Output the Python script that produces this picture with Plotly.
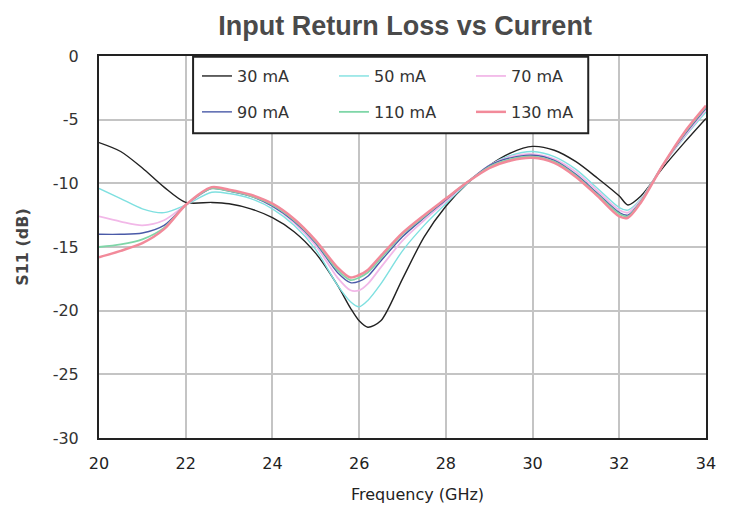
import plotly.graph_objects as go

freq = [20, 20.5, 21, 21.5, 22, 22.6, 23, 23.5, 24, 24.5, 25, 25.5, 25.8, 26, 26.2, 26.5,
        27, 27.5, 28, 28.5, 29, 29.5, 30, 30.5, 31, 31.5, 32, 32.2, 32.5, 33, 33.5, 34]

s11_30 = [-6.8, -7.5, -8.8, -10.3, -11.5, -11.5, -11.6, -12.0, -12.7, -13.8, -15.5, -18.0, -19.8, -20.8, -21.3, -20.8,
          -17.5, -14.2, -11.8, -10.0, -8.6, -7.6, -7.1, -7.4, -8.3, -9.6, -11.0, -11.7, -11.0, -8.8, -6.8, -4.9]
s11_50 = [-10.4, -11.2, -12.0, -12.3, -11.7, -10.7, -10.8, -11.2, -12.0, -13.3, -15.2, -18.0, -19.3, -19.7, -19.2, -17.9,
          -15.3, -13.3, -11.6, -10.0, -8.6, -7.8, -7.5, -7.9, -8.9, -10.4, -11.9, -12.1, -11.2, -8.6, -6.4, -4.4]
s11_70 = [-12.6, -13.0, -13.3, -12.9, -11.7, -10.4, -10.6, -11.0, -11.8, -13.1, -14.9, -17.4, -18.4, -18.4, -17.9, -16.6,
          -14.5, -12.9, -11.4, -9.9, -8.6, -7.9, -7.7, -8.1, -9.1, -10.6, -12.1, -12.3, -11.3, -8.6, -6.3, -4.2]
s11_90 = [-14.0, -14.0, -13.9, -13.3, -11.7, -10.4, -10.6, -11.0, -11.8, -13.0, -14.7, -17.0, -17.8, -17.7, -17.3, -16.1,
          -14.2, -12.7, -11.3, -9.9, -8.6, -8.0, -7.8, -8.2, -9.3, -10.8, -12.3, -12.5, -11.4, -8.6, -6.2, -4.1]
s11_110 = [-15.0, -14.8, -14.4, -13.5, -11.7, -10.4, -10.6, -11.0, -11.7, -12.9, -14.6, -16.8, -17.6, -17.4, -17.0, -15.9,
           -14.0, -12.6, -11.2, -9.9, -8.7, -8.1, -7.9, -8.3, -9.4, -10.9, -12.4, -12.6, -11.4, -8.6, -6.1, -4.0]
s11_130 = [-15.8, -15.3, -14.7, -13.6, -11.7, -10.3, -10.5, -10.9, -11.6, -12.8, -14.5, -16.6, -17.4, -17.2, -16.8, -15.7,
           -13.9, -12.5, -11.2, -9.9, -8.8, -8.2, -8.0, -8.4, -9.5, -11.0, -12.6, -12.7, -11.5, -8.6, -6.0, -3.9]

names = ["30 mA", "50 mA", "70 mA", "90 mA", "110 mA", "130 mA"]
series = [s11_30, s11_50, s11_70, s11_90, s11_110, s11_130]
colors = ["#222222", "#7fe0e0", "#f2b8e8", "#4a5aa8", "#7fd6a8", "#f28a9a"]
widths = [1.4, 1.4, 1.8, 1.4, 1.8, 2.5]
legends = ["legend", "legend", "legend", "legend2", "legend2", "legend2"]

x_ticks = [20, 22, 24, 26, 28, 30, 32, 34]
y_ticks = [0, -5, -10, -15, -20, -25, -30]

fig = go.Figure()
for n, s, c, w, lg in zip(names, series, colors, widths, legends):
    fig.add_trace(go.Scatter(x=freq, y=s, name=n, mode="lines",
                             line=dict(color=c, width=w, shape="spline", smoothing=0.8),
                             legend=lg))

font = "DejaVu Sans, Liberation Sans, Arial, sans-serif"
fig.update_layout(
    width=726, height=502,
    margin=dict(l=91, r=28, t=48, b=72, autoexpand=False),
    paper_bgcolor="white", plot_bgcolor="white",
    font=dict(family=font, size=16, color="#333333"),
    title=dict(text="<b>Input Return Loss vs Current</b>", x=0.547, xanchor="center",
               y=0.966, yanchor="middle",
               font=dict(family="Liberation Sans, Arial, sans-serif", size=27, color="#4a4a4a")),
    showlegend=True,
    legend=dict(orientation="h", x=0.1614, xanchor="left", y=0.992, yanchor="top",
                bgcolor="rgba(0,0,0,0)", borderwidth=0, entrywidth=92,
                font=dict(size=16, color="#333333")),
    legend2=dict(orientation="h", x=0.1614, xanchor="left", y=0.898, yanchor="top",
                 bgcolor="rgba(0,0,0,0)", borderwidth=0, entrywidth=92,
                 font=dict(size=16, color="#333333")),
    shapes=[dict(type="rect", xref="paper", yref="paper", x0=0.155, x1=0.806, y0=0.798, y1=0.998,
                 line=dict(color="#222222", width=2), fillcolor="white", layer="above")],
    annotations=[dict(text="Frequency (GHz)", xref="paper", yref="paper", x=0.525, y=-0.148,
                      xanchor="center", yanchor="middle", showarrow=False,
                      font=dict(size=16, color="#222222"))],
)
fig.update_xaxes(range=[20, 34], tickvals=x_ticks, ticktext=[str(v) for v in x_ticks],
                 showgrid=True, gridcolor="#c4c4c4", gridwidth=1.5,
                 showline=True, linecolor="#222222", linewidth=2, mirror=True,
                 ticks="", ticklabelstandoff=10, tickfont=dict(size=16, color="#222222"),
                 zeroline=False, automargin=False)
fig.update_yaxes(range=[-30, 0], tickvals=y_ticks, ticktext=[str(v) for v in y_ticks],
                 showgrid=True, gridcolor="#c4c4c4", gridwidth=1.5,
                 showline=True, linecolor="#222222", linewidth=2, mirror=True,
                 ticks="", ticklabelstandoff=15, tickfont=dict(size=16, color="#333333"),
                 zeroline=False, automargin=False,
                 title=dict(text="<b>S11 (dB)</b>", font=dict(size=16, color="#444444"), standoff=20))

fig.write_html("out.html")
